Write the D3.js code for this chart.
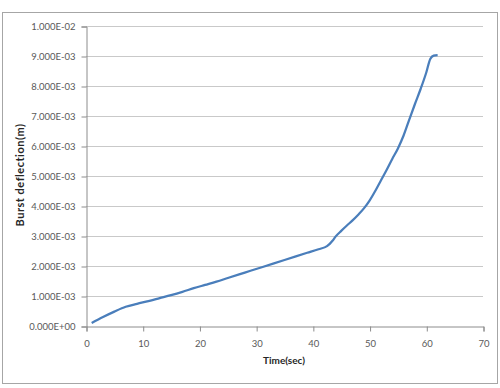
<!DOCTYPE html>
<html>
<head>
<meta charset="utf-8">
<script src="https://cdn.jsdelivr.net/npm/d3@7"></script>
<style>
  body { margin: 0; background: #fff; }
  text { font-family: Lato, "Open Sans", sans-serif; }
</style>
</head>
<body>
<svg width="500" height="388"></svg>
<script>
const width = 500;
const height = 388;

// time (sec) and burst deflection (m)
var times = [1, 3, 5, 7, 9, 11, 13, 15, 17, 19, 21, 23, 25, 27, 29, 31, 33, 35, 37, 39, 41, 42.5,
  43.5, 44, 45, 46, 47, 48, 49, 50, 51, 52, 53, 54, 55, 56, 57, 58, 59, 60, 60.7, 61.3, 62];
var deflection = [0.10e-3, 0.30e-3, 0.48e-3, 0.64e-3, 0.74e-3, 0.83e-3, 0.93e-3, 1.03e-3, 1.14e-3,
  1.26e-3, 1.37e-3, 1.48e-3, 1.60e-3, 1.72e-3, 1.84e-3, 1.96e-3, 2.08e-3, 2.20e-3, 2.32e-3,
  2.44e-3, 2.56e-3, 2.66e-3, 2.85e-3, 2.98e-3, 3.17e-3, 3.35e-3, 3.52e-3, 3.71e-3, 3.92e-3,
  4.18e-3, 4.50e-3, 4.85e-3, 5.20e-3, 5.57e-3, 5.92e-3, 6.35e-3, 6.88e-3, 7.40e-3, 7.90e-3,
  8.45e-3, 8.90e-3, 9.01e-3, 9.03e-3];

var xTicks = [0, 10, 20, 30, 40, 50, 60, 70];
var yTicks = [0, 1e-3, 2e-3, 3e-3, 4e-3, 5e-3, 6e-3, 7e-3, 8e-3, 9e-3, 1e-2];
var yTickLabels = ["0.000E+00", "1.000E-03", "2.000E-03", "3.000E-03", "4.000E-03", "5.000E-03",
  "6.000E-03", "7.000E-03", "8.000E-03", "9.000E-03", "1.000E-02"];

let data = times.map((t, i) => { return { x: t, y: deflection[i] }; });

let svg = d3.select("svg").attr("width", width).attr("height", height);

// outer chart frame
svg.append("rect")
  .attr("x", 2.5).attr("y", 12.5)
  .attr("width", 495).attr("height", 371)
  .attr("fill", "#fff")
  .attr("stroke", "#a6a6a6");

let xScale = d3.scaleLinear().domain([0, 70]).range([86, 483]);
let yScale = d3.scaleLinear().domain([0, 0.01]).range([326, 26]);

// gridlines
svg.append("g")
  .selectAll("line")
  .data(yTicks.slice(1))
  .enter().append("line")
  .attr("x1", 86).attr("x2", 483)
  .attr("y1", d => Math.round(yScale(d)) + 0.5)
  .attr("y2", d => Math.round(yScale(d)) + 0.5)
  .attr("stroke", "#c9c9c9");

// y axis
let yAxis = d3.axisLeft(yScale)
  .tickValues(yTicks)
  .tickSize(5)
  .tickPadding(6)
  .tickFormat((d, i) => yTickLabels[i]);
let gy = svg.append("g")
  .attr("transform", "translate(86.5,0.5)")
  .call(yAxis);

// x axis
let xAxis = d3.axisBottom(xScale)
  .tickValues(xTicks)
  .tickSize(5)
  .tickPadding(9);
let gx = svg.append("g")
  .attr("transform", "translate(0.5,326.5)")
  .call(xAxis);

[gx, gy].forEach(g => {
  g.select(".domain").attr("stroke", "#8c8c8c");
  g.selectAll(".tick line").attr("stroke", "#8c8c8c");
  g.selectAll(".tick text")
    .attr("fill", "#595959")
    .style("font-size", "9.5px")
    .style("font-family", "Lato, sans-serif");
});

// the curve
let line = d3.line()
  .x(d => xScale(d.x))
  .y(d => yScale(d.y))
  .curve(d3.curveMonotoneX);

svg.append("path")
  .datum(data)
  .attr("d", line)
  .attr("fill", "none")
  .attr("stroke", "#4a7ebb")
  .attr("stroke-width", 2.25)
  .attr("stroke-linejoin", "round");

// axis titles
svg.append("text")
  .attr("x", 284).attr("y", 364)
  .attr("text-anchor", "middle")
  .attr("fill", "#262626")
  .style("font-size", "10px")
  .style("font-weight", "bold")
  .text("Time(sec)");

svg.append("text")
  .attr("transform", "translate(24,175) rotate(-90)")
  .attr("text-anchor", "middle")
  .attr("fill", "#262626")
  .style("font-size", "11px")
  .style("letter-spacing", "0.5px")
  .style("font-weight", "bold")
  .text("Burst deflection(m)");
</script>
</body>
</html>
